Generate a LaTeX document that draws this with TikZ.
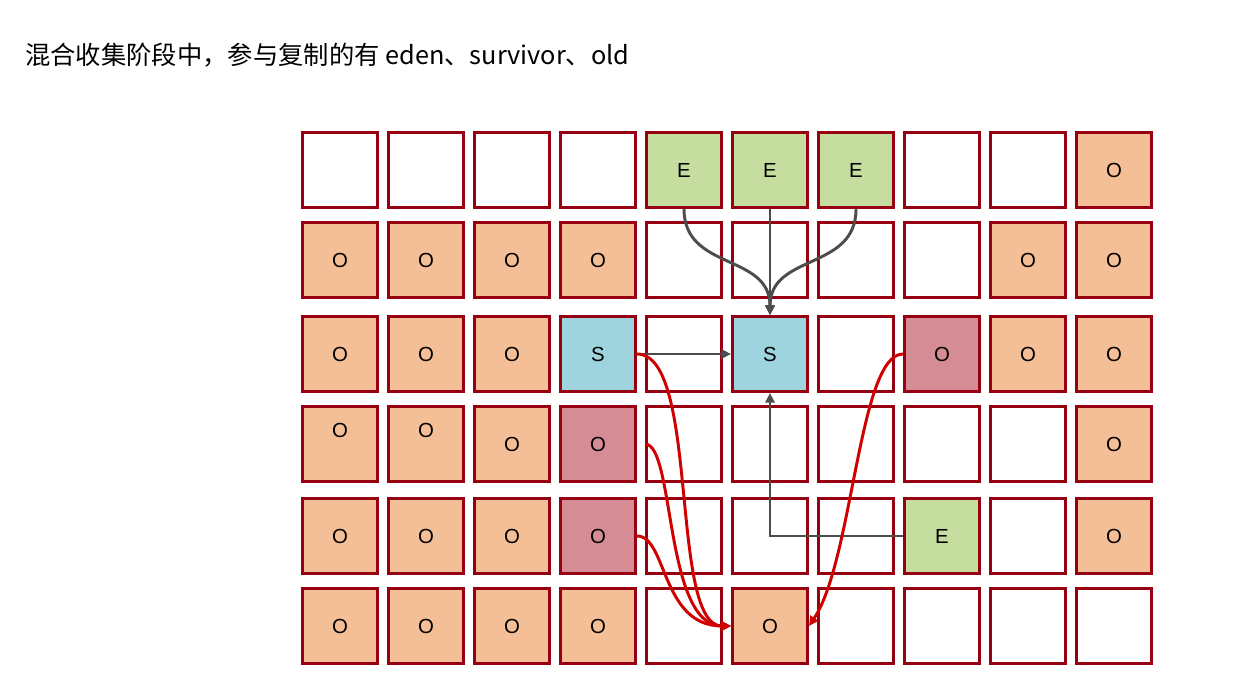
\documentclass[tikz,border=0pt]{standalone}
\usepackage{fontspec}
\setmainfont{Liberation Sans}
\newfontfamily\cjkfont{Noto Sans CJK SC}
\usetikzlibrary{arrows.meta}
\definecolor{cellborder}{RGB}{150,0,16}
\definecolor{oldfill}{RGB}{244,190,150}
\definecolor{edenfill}{RGB}{197,222,160}
\definecolor{survfill}{RGB}{157,212,222}
\definecolor{pickfill}{RGB}{214,140,148}
\definecolor{movegray}{RGB}{77,77,77}
\definecolor{movered}{RGB}{208,0,0}
\tikzset{
  cell/.style={
    draw=cellborder,
    line width=2pt,
    fill=white,
    minimum size=1.88cm,
    inner sep=0pt,
    font=\fontsize{14.5}{17}\selectfont
  },
  freecell/.style={cell, node contents={}},
  oldcell/.style={cell, fill=oldfill, node contents={O}},
  oldhigh/.style={cell, fill=oldfill, node contents={\raisebox{0.35cm}[\height][\depth]{O}}},
  edencell/.style={cell, fill=edenfill, node contents={E}},
  survcell/.style={cell, fill=survfill, node contents={S}},
  pickcell/.style={cell, fill=pickfill, node contents={O}},
  grayarrow/.style={-{Triangle[length=2.4mm,width=2.3mm]}, line width=2.1pt, draw=movegray},
  redarrow/.style={-{Triangle[length=2.4mm,width=2.3mm]}, line width=2.1pt, draw=movered}
}

\begin{document}
\begin{tikzpicture}[x=0.025cm,y=-0.025cm]
    \useasboundingbox (0,0) rectangle (1255,688);
    \node[anchor=west, inner sep=0pt, font=\cjkfont\fontsize{18}{21}\selectfont] (title) at (25,55) {混合收集阶段中，参与复制的有 eden、survivor、old};

    % heap regions, one row at a time
    \foreach \col/\kind in {1/freecell,2/freecell,3/freecell,4/freecell,5/edencell,6/edencell,7/edencell,8/freecell,9/freecell,10/oldcell}
      \node (c-1-\col) at (\col*86+254,170) [\kind];
    \foreach \col/\kind in {1/oldcell,2/oldcell,3/oldcell,4/oldcell,5/freecell,6/freecell,7/freecell,8/freecell,9/oldcell,10/oldcell}
      \node (c-2-\col) at (\col*86+254,260) [\kind];
    \foreach \col/\kind in {1/oldcell,2/oldcell,3/oldcell,4/survcell,5/freecell,6/survcell,7/freecell,8/pickcell,9/oldcell,10/oldcell}
      \node (c-3-\col) at (\col*86+254,354) [\kind];
    \foreach \col/\kind in {1/oldhigh,2/oldhigh,3/oldcell,4/pickcell,5/freecell,6/freecell,7/freecell,8/freecell,9/freecell,10/oldcell}
      \node (c-4-\col) at (\col*86+254,444) [\kind];
    \foreach \col/\kind in {1/oldcell,2/oldcell,3/oldcell,4/pickcell,5/freecell,6/freecell,7/freecell,8/edencell,9/freecell,10/oldcell}
      \node (c-5-\col) at (\col*86+254,536) [\kind];
    \foreach \col/\kind in {1/oldcell,2/oldcell,3/oldcell,4/oldcell,5/freecell,6/oldcell,7/freecell,8/freecell,9/freecell,10/freecell}
      \node (c-6-\col) at (\col*86+254,626) [\kind];

    % eden and survivor into the new survivor
    \draw[grayarrow] (c-1-5.south) .. controls +(0,62) and +(0,-62) .. (c-3-6.north);
    \draw[grayarrow] (c-1-6.south) -- (c-3-6.north);
    \draw[grayarrow] (c-1-7.south) .. controls +(0,62) and +(0,-62) .. (c-3-6.north);
    \draw[grayarrow] (c-3-4.east) -- (c-3-6.west);
    \draw[grayarrow] (c-5-8.west) -| (c-3-6.south);

    % into old
    \draw[redarrow] (c-3-4.east) .. controls +(63,0) and +(-62,0) .. (c-6-6.west);
    \draw[redarrow] (c-4-5.west) .. controls +(30,0) and +(-67,0) .. (c-6-6.west);
    \draw[redarrow] (c-5-4.east) .. controls +(30,0) and +(-70,0) .. (c-6-6.west);
    \draw[redarrow] (c-3-8.west) .. controls +(-44,0) and +(44,-66) .. (c-6-6.east);
  \end{tikzpicture}
\end{document}
